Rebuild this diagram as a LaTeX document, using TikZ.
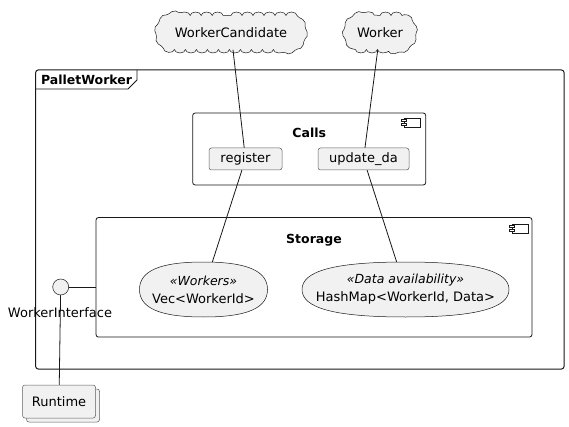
\documentclass[tikz,border=0pt]{standalone}
\usepackage{fontspec}
\setmainfont{DejaVu Sans}
\usetikzlibrary{shapes.misc,shapes.geometric,decorations.pathmorphing}
\definecolor{nodefill}{HTML}{F1F1F1}
\definecolor{linecol}{HTML}{181818}
% superellipse-like usecase outline: centre x, centre y, half width, half height
\newcommand\ucoutline[4]{%
  \draw[draw=linecol, fill=nodefill, line width=0.5pt]
    ({#1+#3},{#2}) .. controls ({#1+#3},{#2-0.68*#4}) and ({#1+0.68*#3},{#2-#4}) .. ({#1},{#2-#4})
    .. controls ({#1-0.68*#3},{#2-#4}) and ({#1-#3},{#2-0.68*#4}) .. ({#1-#3},{#2})
    .. controls ({#1-#3},{#2+0.68*#4}) and ({#1-0.68*#3},{#2+#4}) .. ({#1},{#2+#4})
    .. controls ({#1+0.68*#3},{#2+#4}) and ({#1+#3},{#2+0.68*#4}) .. cycle;}
\begin{document}
\begin{tikzpicture}[x=1pt,y=-1pt,
  txt/.style={font=\fontsize{13}{15}\selectfont},
  boldtxt/.style={font=\fontsize{12.5}{15}\selectfont\bfseries},
  cloudnode/.style={rounded rectangle, draw=linecol, fill=nodefill, line width=0.5pt, inner sep=0pt, minimum height=34pt, txt,
     decorate, decoration={bumps, segment length=22pt, amplitude=3.5pt}},
  smallbox/.style={draw=linecol!70, fill=nodefill, rounded corners=2.5pt, line width=0.5pt, inner sep=0pt, minimum height=22pt, txt},
  compbox/.style={draw=linecol, fill=white, rounded corners=2.5pt, line width=0.8pt, inner sep=0pt},
  usecase/.style={ellipse, inner sep=0pt, minimum height=55pt, align=center, font=\fontsize{13}{18}\selectfont},
  conn/.style={draw=linecol, line width=0.8pt},
  icon/.style={draw=linecol, fill=white, line width=0.6pt}
]
\useasboundingbox (0,0) rectangle (569,427);
% frame
\draw[line width=1pt, draw=linecol, fill=white, rounded corners=2.5pt] (35.7,70) rectangle (564,369);
\draw[line width=0.8pt, draw=linecol] (35.7,89) -- (128,89) -- (137,80) -- (137,70);
\node[boldtxt, anchor=west] (pwlabel) at (37.5,79.5) {PalletWorker};
% clouds
\node[cloudnode, minimum width=144pt] (wc) at (231,32.5) {WorkerCandidate};
\node[cloudnode, minimum width=66pt] (worker) at (380,32.5) {Worker};
% Calls
\node[compbox, minimum width=233pt, minimum height=72pt] (calls) at (309.2,149) {};
\draw[icon] (404,118) rectangle (420.5,127);
\draw[icon] (401.5,119.5) rectangle (406.5,121.7);
\draw[icon] (401.5,123.3) rectangle (406.5,125.5);
\node[boldtxt] (callst) at (309.2,133) {Calls};
\node[smallbox, minimum width=73pt] (register) at (245.5,159) {register};
\node[smallbox, minimum width=91pt] (update) at (363.5,159) {update\_da};
% Storage
\node[compbox, minimum width=436pt, minimum height=119.5pt] (storage) at (314,277.3) {};
\draw[icon] (512,224) rectangle (528.5,233);
\draw[icon] (509.5,225.5) rectangle (514.5,227.7);
\draw[icon] (509.5,229.3) rectangle (514.5,231.5);
\node[boldtxt] (storaget) at (314,240) {Storage};
\ucoutline{203.5}{289.5}{64}{27.5}
\ucoutline{405.5}{289.5}{103.5}{27.5}
\node[usecase, minimum width=128pt] (vec) at (203.5,289.5) {{\itshape\fontsize{12.5}{18}\selectfont «Workers»}\\Vec<WorkerId>};
\node[usecase, minimum width=207pt] (hash) at (405.5,289.5) {{\itshape\fontsize{12.5}{18}\selectfont «Data availability»}\\HashMap<WorkerId, Data>};
% interface
\node[circle, draw=linecol, fill=nodefill, line width=0.5pt, minimum size=16pt, inner sep=0pt] (wi) at (60.7,287) {};
% runtime
\node[smallbox, minimum width=73pt, minimum height=33pt] (rtback) at (63,405.5) {};
\node[smallbox, minimum width=73pt, minimum height=33pt] (runtime) at (59,401.5) {Runtime};
% connectors
\draw[conn] (wc) -- (register);
\draw[conn] (register) -- (vec);
\draw[conn] (worker) -- (update);
\draw[conn] (update) -- (hash);
\draw[conn] (wi) -- (wi -| storage.west);
\draw[conn] (wi) -- (runtime);
\node[txt] (wil) at (60,313) {WorkerInterface};
\end{tikzpicture}
\end{document}
